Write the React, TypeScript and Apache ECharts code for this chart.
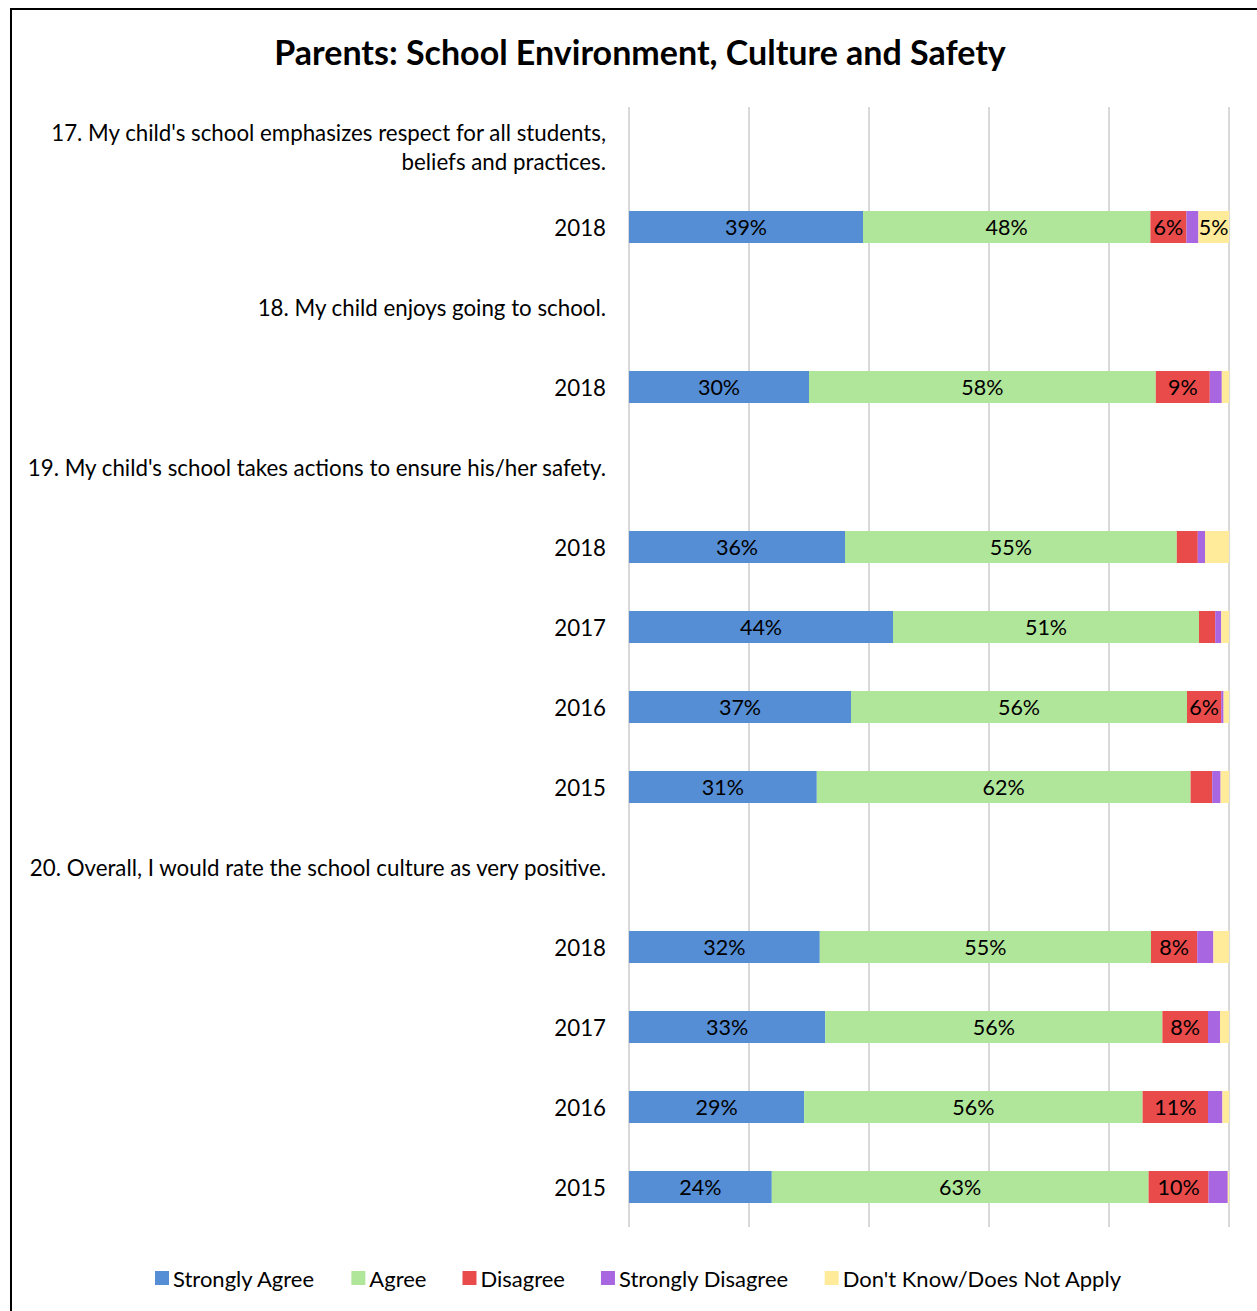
import React, { useEffect, useRef } from "react";
import * as echarts from "echarts";

const categories = [
  "17. My child's school emphasizes respect for all students,\nbeliefs and practices.",
  "2018",
  "18. My child enjoys going to school.",
  "2018",
  "19. My child's school takes actions to ensure his/her safety.",
  "2018",
  "2017",
  "2016",
  "2015",
  "20. Overall, I would rate the school culture as very positive.",
  "2018",
  "2017",
  "2016",
  "2015",
];

const seriesNames = [
  "Strongly Agree",
  "Agree",
  "Disagree",
  "Strongly Disagree",
  "Don't Know/Does Not Apply",
];

const stronglyAgree = [null, 39, null, 30, null, 36, 44, 37, 31.3, null, 31.8, 32.7, 29.2, 23.8];
const agree = [null, 47.9, null, 57.8, null, 55.3, 51, 56, 62.3, null, 55.2, 56.2, 56.4, 62.8];
const disagree = [null, 6, null, 9, null, 3.5, 2.7, 5.7, 3.6, null, 7.7, 7.6, 10.9, 10];
const stronglyDisagree = [null, 2, null, 2, null, 1.2, 1, 0.4, 1.4, null, 2.7, 2, 2.4, 3.2];
const dontKnow = [null, 5.1, null, 1.2, null, 4, 1.3, 0.9, 1.4, null, 2.6, 1.5, 1.1, 0.2];

const colors = ["#558ed5", "#b0e69a", "#e94a4a", "#a866e0", "#ffeb99"];
const FONT = "Lato, 'Open Sans', sans-serif";

export default function App() {
  const ref = useRef<HTMLDivElement>(null);
  useEffect(() => {
    if (!ref.current) return;
    const chart = echarts.init(ref.current, undefined, { renderer: "svg" });
    const values = [stronglyAgree, agree, disagree, stronglyDisagree, dontKnow];
    chart.setOption({
      animation: false,
      backgroundColor: "#ffffff",
      color: colors,
      title: {
        text: "Parents: School Environment, Culture and Safety",
        left: 635,
        textAlign: "center",
        top: 29,
        textStyle: { fontSize: 34, fontWeight: "bold", color: "#000", fontFamily: FONT },
      },
      legend: {
        left: 155,
        top: 1267,
        padding: 0,
        icon: "rect",
        itemWidth: 14,
        itemHeight: 14,
        itemGap: 36,
        textStyle: { fontSize: 22, color: "#000", fontFamily: FONT, padding: [0, 0, 0, -1] },
        data: seriesNames,
      },
      graphic: [
        {
          type: "rect",
          shape: { x: 11, y: 9, width: 1400, height: 1400 },
          style: { fill: "none", stroke: "#000", lineWidth: 2 },
          silent: true,
        },
      ],
      grid: { left: 629, right: 28, top: 107, height: 1120, containLabel: false },
      xAxis: {
        type: "value",
        min: 0,
        max: 100,
        interval: 20,
        axisLabel: { show: false },
        axisLine: { show: false },
        axisTick: { show: false },
        splitLine: { show: true, lineStyle: { color: "#d9d9d9", width: 2 } },
      },
      yAxis: {
        type: "category",
        inverse: true,
        data: categories,
        axisLine: { show: false },
        axisTick: { show: false },
        axisLabel: {
          margin: 23,
          fontSize: 22.3,
          color: "#000",
          fontFamily: FONT,
          lineHeight: 29,
          align: "right",
        },
      },
      series: seriesNames.map((name, i) => ({
        name,
        type: "bar",
        stack: "total",
        barWidth: 32,
        data: values[i],
        itemStyle: { color: colors[i] },
        label: {
          show: true,
          position: "inside",
          color: "#000",
          fontSize: 21.5,
          fontFamily: FONT,
          formatter: (p: any) =>
            p.value != null && p.value >= 4.5 ? Math.round(p.value) + "%" : "",
        },
      })),
    });
    return () => chart.dispose();
  }, []);
  return (
    <div
      ref={ref}
      style={{ position: "absolute", left: 0, top: 0, width: 1257, height: 1311 }}
    />
  );
}
